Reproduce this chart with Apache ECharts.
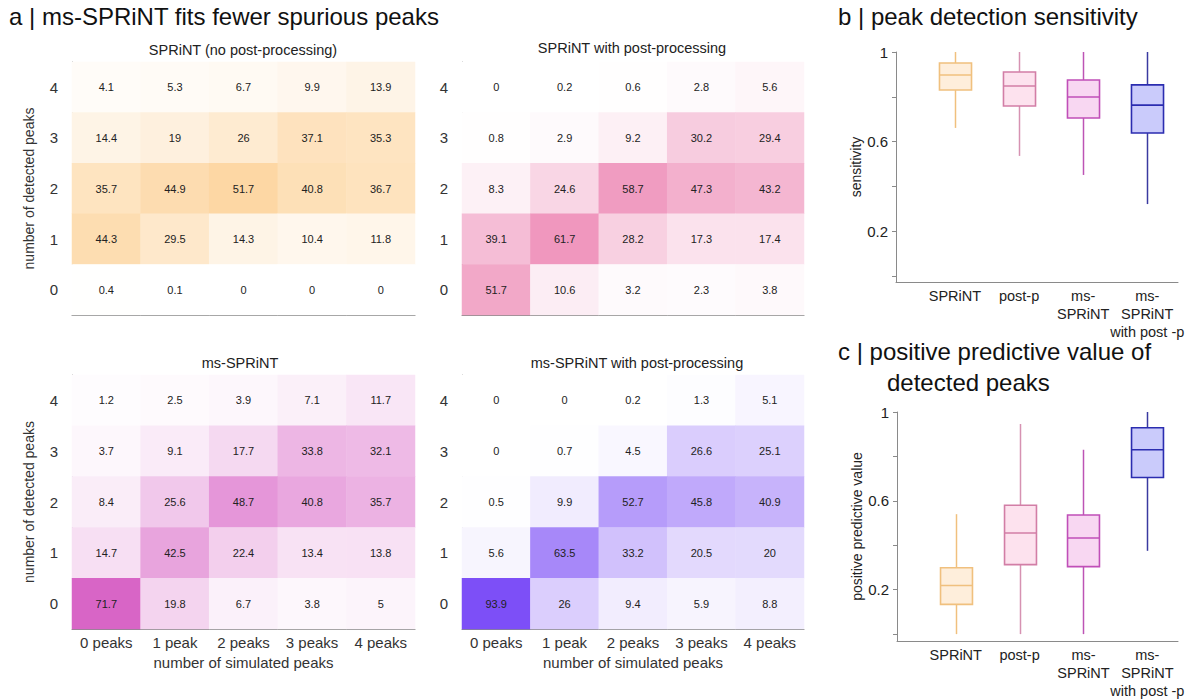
<!DOCTYPE html>
<html>
<head>
<meta charset="utf-8">
<script src="https://cdn.jsdelivr.net/npm/echarts@6/dist/echarts.min.js"></script>
<style>
html,body{margin:0;padding:0;background:#fff;}
#chart{width:1190px;height:700px;}
</style>
</head>
<body>
<div id="chart"></div>
<script>
// ---------- data ----------
const simulatedLabels = ['0 peaks', '1 peak', '2 peaks', '3 peaks', '4 peaks'];
const detectedLabels = ['0', '1', '2', '3', '4'];
// rows: detected 4 (top) ... detected 0 (bottom); columns: simulated 0..4
const sprintNoPost = [
  [4.1, 5.3, 6.7, 9.9, 13.9],
  [14.4, 19, 26, 37.1, 35.3],
  [35.7, 44.9, 51.7, 40.8, 36.7],
  [44.3, 29.5, 14.3, 10.4, 11.8],
  [0.4, 0.1, 0, 0, 0]
];
const sprintPost = [
  [0, 0.2, 0.6, 2.8, 5.6],
  [0.8, 2.9, 9.2, 30.2, 29.4],
  [8.3, 24.6, 58.7, 47.3, 43.2],
  [39.1, 61.7, 28.2, 17.3, 17.4],
  [51.7, 10.6, 3.2, 2.3, 3.8]
];
const msSprint = [
  [1.2, 2.5, 3.9, 7.1, 11.7],
  [3.7, 9.1, 17.7, 33.8, 32.1],
  [8.4, 25.6, 48.7, 40.8, 35.7],
  [14.7, 42.5, 22.4, 13.4, 13.8],
  [71.7, 19.8, 6.7, 3.8, 5]
];
const msSprintPost = [
  [0, 0, 0.2, 1.3, 5.1],
  [0, 0.7, 4.5, 26.6, 25.1],
  [0.5, 9.9, 52.7, 45.8, 40.9],
  [5.6, 63.5, 33.2, 20.5, 20],
  [93.9, 26, 9.4, 5.9, 8.8]
];
const methodLabels = ['SPRiNT', 'post-p', 'ms-\nSPRiNT', 'ms-\nSPRiNT\nwith post -p'];
// [min, Q1, median, Q3, max]
const sensitivity = [
  [0.661, 0.830, 0.897, 0.951, 1.0],
  [0.536, 0.759, 0.848, 0.911, 1.0],
  [0.451, 0.705, 0.799, 0.875, 1.0],
  [0.321, 0.638, 0.763, 0.853, 1.0]
];
const ppv = [
  [0.0, 0.134, 0.219, 0.299, 0.540],
  [0.0, 0.313, 0.455, 0.580, 0.946],
  [0.0, 0.304, 0.433, 0.536, 0.830],
  [0.375, 0.705, 0.830, 0.929, 1.0]
];
const yTicks = [0, 0.2, 0.4, 0.6, 0.8, 1];
const yTickLabels = [0.2, 0.6, 1];

// ---------- styles ----------
const FONT = 'Liberation Sans, Arial, Helvetica, sans-serif';
const AXIS_COLOR = '#8a8a8a';
const TEXT = '#222';
const heatColors = ['#fbb24f', '#e65795', '#c928b0', '#7544f6'];
const boxStroke = ['#f0c07e', '#d27ea6', '#c04fb8', '#2b2db0'];
const boxWhisker = ['#f0c07e', '#d692b2', '#bd54b5', '#3a3aa0'];
const boxFill = ['#feeedb', '#fde2ee', '#f8d7f2', '#cacbfb'];

const heatGrids = [
  {left: 72, top: 62, width: 343, height: 253},
  {left: 462, top: 62, width: 342, height: 253},
  {left: 72, top: 375, width: 343, height: 254},
  {left: 462, top: 375, width: 342, height: 254}
];
const heatSets = [sprintNoPost, sprintPost, msSprint, msSprintPost];

function toHeat(mat) {
  const out = [];
  mat.forEach((row, r) => row.forEach((v, c) => out.push([c, 4 - r, v])));
  return out;
}

const grid = heatGrids.slice();
grid.push({left: 896, top: 52, width: 282, height: 230});
grid.push({left: 897, top: 412, width: 281, height: 231});

const xAxis = [], yAxis = [], series = [], visualMap = [];
heatSets.forEach((m, i) => {
  const bottomRow = i >= 2;
  xAxis.push({
    type: 'category', gridIndex: i, data: simulatedLabels,
    axisLine: {show: true, lineStyle: {color: AXIS_COLOR, width: 1}},
    axisTick: {show: false},
    axisLabel: {show: bottomRow, color: '#333', fontSize: 15, fontFamily: FONT, margin: 6},
    name: bottomRow ? 'number of simulated peaks' : '',
    nameLocation: 'middle', nameGap: 26,
    nameTextStyle: {color: '#333', fontSize: 15, fontFamily: FONT},
    splitLine: {show: false}
  });
  yAxis.push({
    type: 'category', gridIndex: i, data: detectedLabels,
    axisLine: {show: true, lineStyle: {color: AXIS_COLOR, width: 1}},
    axisTick: {show: false},
    axisLabel: {color: '#333', fontSize: 15, fontFamily: FONT, margin: 14},
    name: (i % 2 === 0) ? 'number of detected peaks' : '',
    nameLocation: 'middle', nameRotate: 90, nameGap: 36,
    nameTextStyle: {color: '#333', fontSize: 14, fontFamily: FONT},
    splitLine: {show: false}
  });
  series.push({
    type: 'heatmap', xAxisIndex: i, yAxisIndex: i,
    data: toHeat(m),
    label: {show: true, color: TEXT, fontSize: 11, fontFamily: FONT,
      formatter: p => String(p.value[2])},
    itemStyle: {borderWidth: 0},
    emphasis: {disabled: true}
  });
  visualMap.push({
    show: false, seriesIndex: i, min: 0, max: 100, dimension: 2,
    inRange: {color: ['#ffffff', heatColors[i]]}
  });
});

function renderBox(params, api) {
  const x = api.value(0);
  const lo = api.coord([x, api.value(1)]);
  const q1 = api.coord([x, api.value(2)]);
  const md = api.coord([x, api.value(3)]);
  const q3 = api.coord([x, api.value(4)]);
  const hi = api.coord([x, api.value(5)]);
  const w = api.size([0.5, 0])[0];
  const k = params.dataIndex;
  const cx = Math.round(q1[0]) + 0.5;
  return {
    type: 'group',
    children: [
      {type: 'line', shape: {x1: cx, y1: hi[1], x2: cx, y2: q3[1]}, style: {stroke: boxWhisker[k], lineWidth: 1.5}},
      {type: 'line', shape: {x1: cx, y1: q1[1], x2: cx, y2: lo[1]}, style: {stroke: boxWhisker[k], lineWidth: 1.5}},
      {type: 'rect', shape: {x: cx - w / 2, y: q3[1], width: w, height: q1[1] - q3[1]},
        style: {fill: boxFill[k], stroke: boxStroke[k], lineWidth: 1.6}},
      {type: 'line', shape: {x1: cx - w / 2, y1: md[1], x2: cx + w / 2, y2: md[1]}, style: {stroke: boxStroke[k], lineWidth: 1.6}}
    ]
  };
}

[[sensitivity, 'sensitivity', -0.027], [ppv, 'positive predictive value', -0.031]].forEach((cfg, j) => {
  const gi = 4 + j;
  xAxis.push({
    type: 'value', gridIndex: gi, min: 0.08, max: 4.48,
    axisLine: {show: true, onZero: false, lineStyle: {color: AXIS_COLOR, width: 1}},
    axisTick: {show: false},
    splitLine: {show: false},
    axisLabel: {
      color: TEXT, fontSize: 14.5, fontFamily: FONT, margin: 5, lineHeight: 18,
      customValues: [1, 2, 3, 4],
      formatter: v => methodLabels[Math.round(v) - 1] || ''
    }
  });
  yAxis.push({
    type: 'value', gridIndex: gi, min: cfg[2], max: 1,
    axisLine: {show: true, onZero: false, lineStyle: {color: AXIS_COLOR, width: 1}},
    axisTick: {show: true, length: 4, lineStyle: {color: AXIS_COLOR}, customValues: yTicks},
    axisLabel: {color: TEXT, fontSize: 15, fontFamily: FONT, margin: 8, customValues: yTickLabels,
      formatter: v => String(Math.round(v * 10) / 10)},
    splitLine: {show: false},
    name: cfg[1], nameLocation: 'middle', nameRotate: 90, nameGap: 32,
    nameTextStyle: {color: TEXT, fontSize: 14, fontFamily: FONT}
  });
  series.push({
    type: 'custom', xAxisIndex: gi, yAxisIndex: gi,
    data: cfg[0].map((d, i) => [i + 1].concat(d)),
    encode: {x: 0, y: [1, 2, 3, 4, 5]},
    renderItem: renderBox,
    silent: true
  });
});

const titleStyle = {fontSize: 24, fontWeight: 'normal', color: '#111', fontFamily: FONT};
const subStyle = {fontSize: 14.5, fontWeight: 'normal', color: '#222', fontFamily: FONT};
const title = [
  {text: 'a | ms-SPRiNT fits fewer spurious peaks', left: 9, top: 4, padding: 0, textStyle: titleStyle},
  {text: 'b | peak detection sensitivity', left: 838, top: 4, padding: 0, textStyle: titleStyle},
  {text: 'c | positive predictive value of', left: 838, top: 339, padding: 0, textStyle: titleStyle},
  {text: 'detected peaks', left: 887, top: 370, padding: 0, textStyle: titleStyle},
  {text: 'SPRiNT (no post-processing)', left: 243, top: 42, padding: 0, textAlign: 'center', textStyle: subStyle},
  {text: 'SPRiNT with post-processing', left: 632, top: 40, padding: 0, textAlign: 'center', textStyle: subStyle},
  {text: 'ms-SPRiNT', left: 240, top: 355, padding: 0, textAlign: 'center', textStyle: subStyle},
  {text: 'ms-SPRiNT with post-processing', left: 637, top: 355, padding: 0, textAlign: 'center', textStyle: subStyle}
];

const chart = echarts.init(document.getElementById('chart'), null, {renderer: 'svg'});
chart.setOption({
  backgroundColor: '#ffffff',
  animation: false,
  title, grid, xAxis, yAxis, visualMap, series
});
</script>
</body>
</html>
